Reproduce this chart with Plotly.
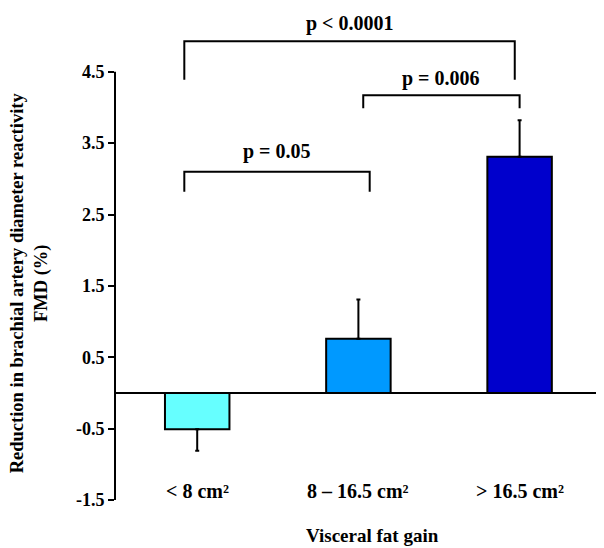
import plotly.graph_objects as go

categories = ["&lt; 8 cm²", "8 – 16.5 cm²", "&gt; 16.5 cm²"]
values = [-0.51, 0.76, 3.31]
err_up = [0.0, 0.55, 0.51]
err_down = [0.30, 0.0, 0.0]
bar_colors = ["#66FFFF", "#0099FF", "#0000CC"]
y_ticks = [-1.5, -0.5, 0.5, 1.5, 2.5, 3.5, 4.5]

bracket_pairs = [(0, 2), (1, 2), (0, 1)]
bracket_labels = ["p &lt; 0.0001", "p = 0.006", "p = 0.05"]
bracket_tops = [4.93, 4.17, 3.10]
bracket_legs = [4.39, 3.99, 2.82]
label_y = [5.18, 4.41, 3.38]

FONT = "Liberation Serif"
Y_RANGE = [-1.5, 5.1]
xs = list(range(len(categories)))


def to_paper(v):
    return (v - Y_RANGE[0]) / (Y_RANGE[1] - Y_RANGE[0])


fig = go.Figure()
fig.add_trace(go.Bar(
    x=xs, y=values, width=0.40,
    marker=dict(color=bar_colors, line=dict(color="black", width=2)),
    error_y=dict(type="data", symmetric=False, array=err_up, arrayminus=err_down,
                 color="black", thickness=2, width=2),
    showlegend=False, hoverinfo="skip",
))

for (a, b), top, leg, lab, ly in zip(bracket_pairs, bracket_tops, bracket_legs, bracket_labels, label_y):
    xa = a - 0.08 if a == 0 else a + 0.03
    xb = b - 0.03 if (a == 0 and b == 2) else (b + 0.07 if b == 1 else b)
    fig.add_trace(go.Scatter(x=[xa, xa, xb, xb], y=[leg, top, top, leg], mode="lines",
                             line=dict(color="black", width=2), showlegend=False,
                             hoverinfo="skip", cliponaxis=False))
    fig.add_annotation(x=(xa + xb) / 2, xref="x", y=to_paper(ly), yref="paper",
                       text=lab, showarrow=False,
                       font=dict(family=FONT, size=20, color="black", weight="bold"),
                       xanchor="center", yanchor="middle")

for i, c in enumerate(categories):
    fig.add_annotation(x=i, y=-1.37, text=c, showarrow=False,
                       font=dict(family=FONT, size=20, color="black", weight="bold"),
                       xanchor="center", yanchor="middle")

# y axis line from -1.5 to 4.5
fig.add_shape(type="line", xref="paper", x0=0, x1=0, yref="y", y0=y_ticks[0], y1=y_ticks[-1],
              line=dict(color="black", width=2))
# right end tick on zero line
fig.add_shape(type="line", xref="paper", x0=1, x1=1, yref="y", y0=0, y1=-0.05,
              line=dict(color="black", width=2))

fig.add_annotation(xref="paper", yref="paper", x=0.53, y=-0.075,
                   text="Visceral fat gain", showarrow=False,
                   font=dict(family=FONT, size=19, color="black", weight="bold"),
                   xanchor="center", yanchor="middle")
fig.add_annotation(xref="paper", yref="y", x=-0.177, y=1.55,
                   text="Reduction in brachial artery diameter reactivity<br>FMD (%)",
                   textangle=-90, showarrow=False,
                   font=dict(family=FONT, size=18.5, color="black", weight="bold"),
                   xanchor="center", yanchor="middle")

fig.update_layout(
    width=604, height=548,
    margin=dict(l=107, r=11, t=21, b=56),
    paper_bgcolor="white", plot_bgcolor="white",
    xaxis=dict(range=[-0.51, 2.505], showgrid=False, zeroline=False, showline=False,
               showticklabels=False, ticks=""),
    yaxis=dict(range=Y_RANGE, tickvals=y_ticks, ticktext=[str(t) for t in y_ticks],
               showgrid=False, showline=False, zeroline=True, zerolinecolor="black",
               zerolinewidth=2, ticks="outside", ticklen=6, tickwidth=2, tickcolor="black",
               tickfont=dict(family=FONT, size=18, color="black", weight="bold")),
)

fig.write_html("out.html")
